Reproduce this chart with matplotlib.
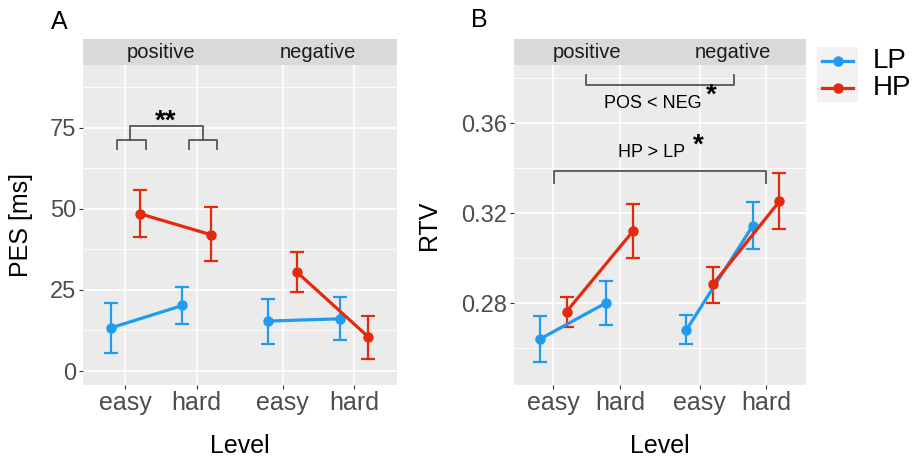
import numpy as np
import matplotlib.pyplot as plt
from matplotlib.lines import Line2D
from matplotlib.patches import Rectangle

plt.rcParams['font.family'] = ['Liberation Sans', 'DejaVu Sans']

# conditions: positive easy, positive hard, negative easy, negative hard
levels = ['easy', 'hard', 'easy', 'hard']
valences = ['positive', 'negative']
groups = ['LP', 'HP']

pes_lp = [13.3, 20.2, 15.4, 16.1]
pes_lp_lo = [5.5, 14.5, 8.2, 9.5]
pes_lp_hi = [21.1, 26.0, 22.2, 22.8]
pes_hp = [48.5, 42.0, 30.5, 10.5]
pes_hp_lo = [41.3, 33.9, 24.3, 3.8]
pes_hp_hi = [55.9, 50.4, 36.7, 16.9]

rtv_lp = [0.2641, 0.2803, 0.2681, 0.3145]
rtv_lp_lo = [0.2538, 0.2705, 0.2618, 0.3043]
rtv_lp_hi = [0.2745, 0.2900, 0.2747, 0.3249]
rtv_hp = [0.2763, 0.3121, 0.2884, 0.3253]
rtv_hp_lo = [0.2696, 0.3003, 0.2803, 0.3129]
rtv_hp_hi = [0.2829, 0.3240, 0.2963, 0.3378]

blue = '#1f9bef'
red = '#e5290c'
xpos = np.array([1, 2, 3.2, 4.2])
dodge = 0.2

W, H = 913, 458
fig = plt.figure(figsize=(W / 100, H / 100), dpi=100)


def px(l, t, r, b):
    return [l / W, 1 - b / H, (r - l) / W, (b - t) / H]


def panel(rect, ylim, yticks, ytl, yminor, series, ylab, ylab_x):
    ax = fig.add_axes(px(*rect))
    ax.set_facecolor('#ebebeb')
    for s in ax.spines.values():
        s.set_visible(False)
    ax.set_xlim(0.41, 4.8)
    ax.set_ylim(*ylim)
    ax.set_yticks(yticks)
    ax.set_yticklabels(ytl)
    ax.set_yticks(yminor, minor=True)
    ax.set_xticks(xpos)
    ax.set_xticklabels(levels, fontsize=18)
    ax.grid(which='major', color='white', lw=1.2)
    ax.grid(which='minor', axis='y', color='white', lw=0.6)
    ax.set_axisbelow(True)
    ax.tick_params(which='major', length=3, color='#333333', labelsize=17,
                   labelcolor='#4d4d4d', pad=2)
    ax.tick_params(axis='x', labelsize=18, pad=1)
    ax.tick_params(which='minor', length=0)
    for off, (m, lo, hi), c in zip([-dodge, dodge], series, [blue, red]):
        x = xpos + off
        m, lo, hi = np.array(m), np.array(lo), np.array(hi)
        ax.errorbar(x, m, yerr=[m - lo, hi - m], fmt='none', ecolor=c,
                    elinewidth=1.6, capsize=5, capthick=1.6, zorder=3)
        for k in (slice(0, 2), slice(2, 4)):
            ax.plot(x[k], m[k], color=c, lw=2.3, marker='o', ms=6.5, zorder=4)
    ax.set_xlabel('Level', fontsize=18, labelpad=14)
    fig.text(ylab_x / W, 1 - (rect[1] + rect[3]) / 2 / H, ylab, rotation=90,
             fontsize=18, ha='center', va='center')
    # strip
    l, t, r, b = rect
    sa = fig.add_axes(px(l, 39, r, t))
    sa.set_facecolor('#d9d9d9')
    sa.set_xlim(ax.get_xlim())
    sa.set_xticks([])
    sa.set_yticks([])
    for s in sa.spines.values():
        s.set_visible(False)
    for xv, name in zip([1.5, 3.7], valences):
        sa.text(xv, 0.5, name, ha='center', va='center', fontsize=14.5,
                color='#1a1a1a')
    return ax


axA = panel((83, 65, 397, 385), (-4.3, 94.3), [0, 25, 50, 75],
            ['0', '25', '50', '75'], [12.5, 37.5, 62.5, 87.5],
            [(pes_lp, pes_lp_lo, pes_lp_hi), (pes_hp, pes_hp_lo, pes_hp_hi)],
            'PES [ms]', 21)
axB = panel((514, 65, 806, 385), (0.2437, 0.3859), [0.28, 0.32, 0.36],
            ['0.28', '0.32', '0.36'], [0.26, 0.30, 0.34, 0.38],
            [(rtv_lp, rtv_lp_lo, rtv_lp_hi), (rtv_hp, rtv_hp_lo, rtv_hp_hi)],
            'RTV', 429)

fig.text(51 / W, 1 - 22 / H, 'A', fontsize=18, va='center', ha='left')
fig.text(471 / W, 1 - 20 / H, 'B', fontsize=18, va='center', ha='left')

# significance brackets, panel A
bc = '#555555'
axA.plot([0.885, 0.885, 1.29, 1.29], [68.3, 71.3, 71.3, 68.3], color=bc, lw=1.3)
axA.plot([1.89, 1.89, 2.29, 2.29], [68.3, 71.3, 71.3, 68.3], color=bc, lw=1.3)
axA.plot([1.07, 1.07, 2.09, 2.09], [71.3, 75.4, 75.4, 71.3], color=bc, lw=1.3)
axA.text(1.57, 77.0, '**', ha='center', va='center', fontsize=20,
         fontweight='bold')

# panel B
axB.plot([1.495, 1.495, 3.72, 3.72], [0.3815, 0.3770, 0.3770, 0.3815],
         color=bc, lw=1.3)
axB.text(2.5, 0.3690, 'POS < NEG', ha='center', va='center', fontsize=13)
axB.text(3.38, 0.3722, '*', ha='center', va='center', fontsize=20,
         fontweight='bold')
axB.plot([1.015, 1.015, 4.2, 4.2], [0.3336, 0.3389, 0.3389, 0.3336],
         color=bc, lw=1.3)
axB.text(2.48, 0.3468, 'HP > LP', ha='center', va='center', fontsize=13)
axB.text(3.18, 0.3500, '*', ha='center', va='center', fontsize=20,
         fontweight='bold')

# legend
fig.add_artist(Rectangle((817 / W, 1 - 102 / H), 41 / W, 55 / H,
                         transform=fig.transFigure, facecolor='#f2f2f2',
                         edgecolor='none'))
for yk, c, g in zip([61, 88], [blue, red], groups):
    fig.add_artist(Line2D([822 / W, 853 / W], [1 - yk / H] * 2, color=c, lw=2.3,
                          transform=fig.transFigure))
    fig.add_artist(Line2D([837.5 / W], [1 - yk / H], color=c, marker='o',
                          ms=6.5, transform=fig.transFigure))
    fig.text(873 / W, 1 - yk / H, g, fontsize=20, va='center', ha='left')

fig.savefig('out.png', dpi=100)
